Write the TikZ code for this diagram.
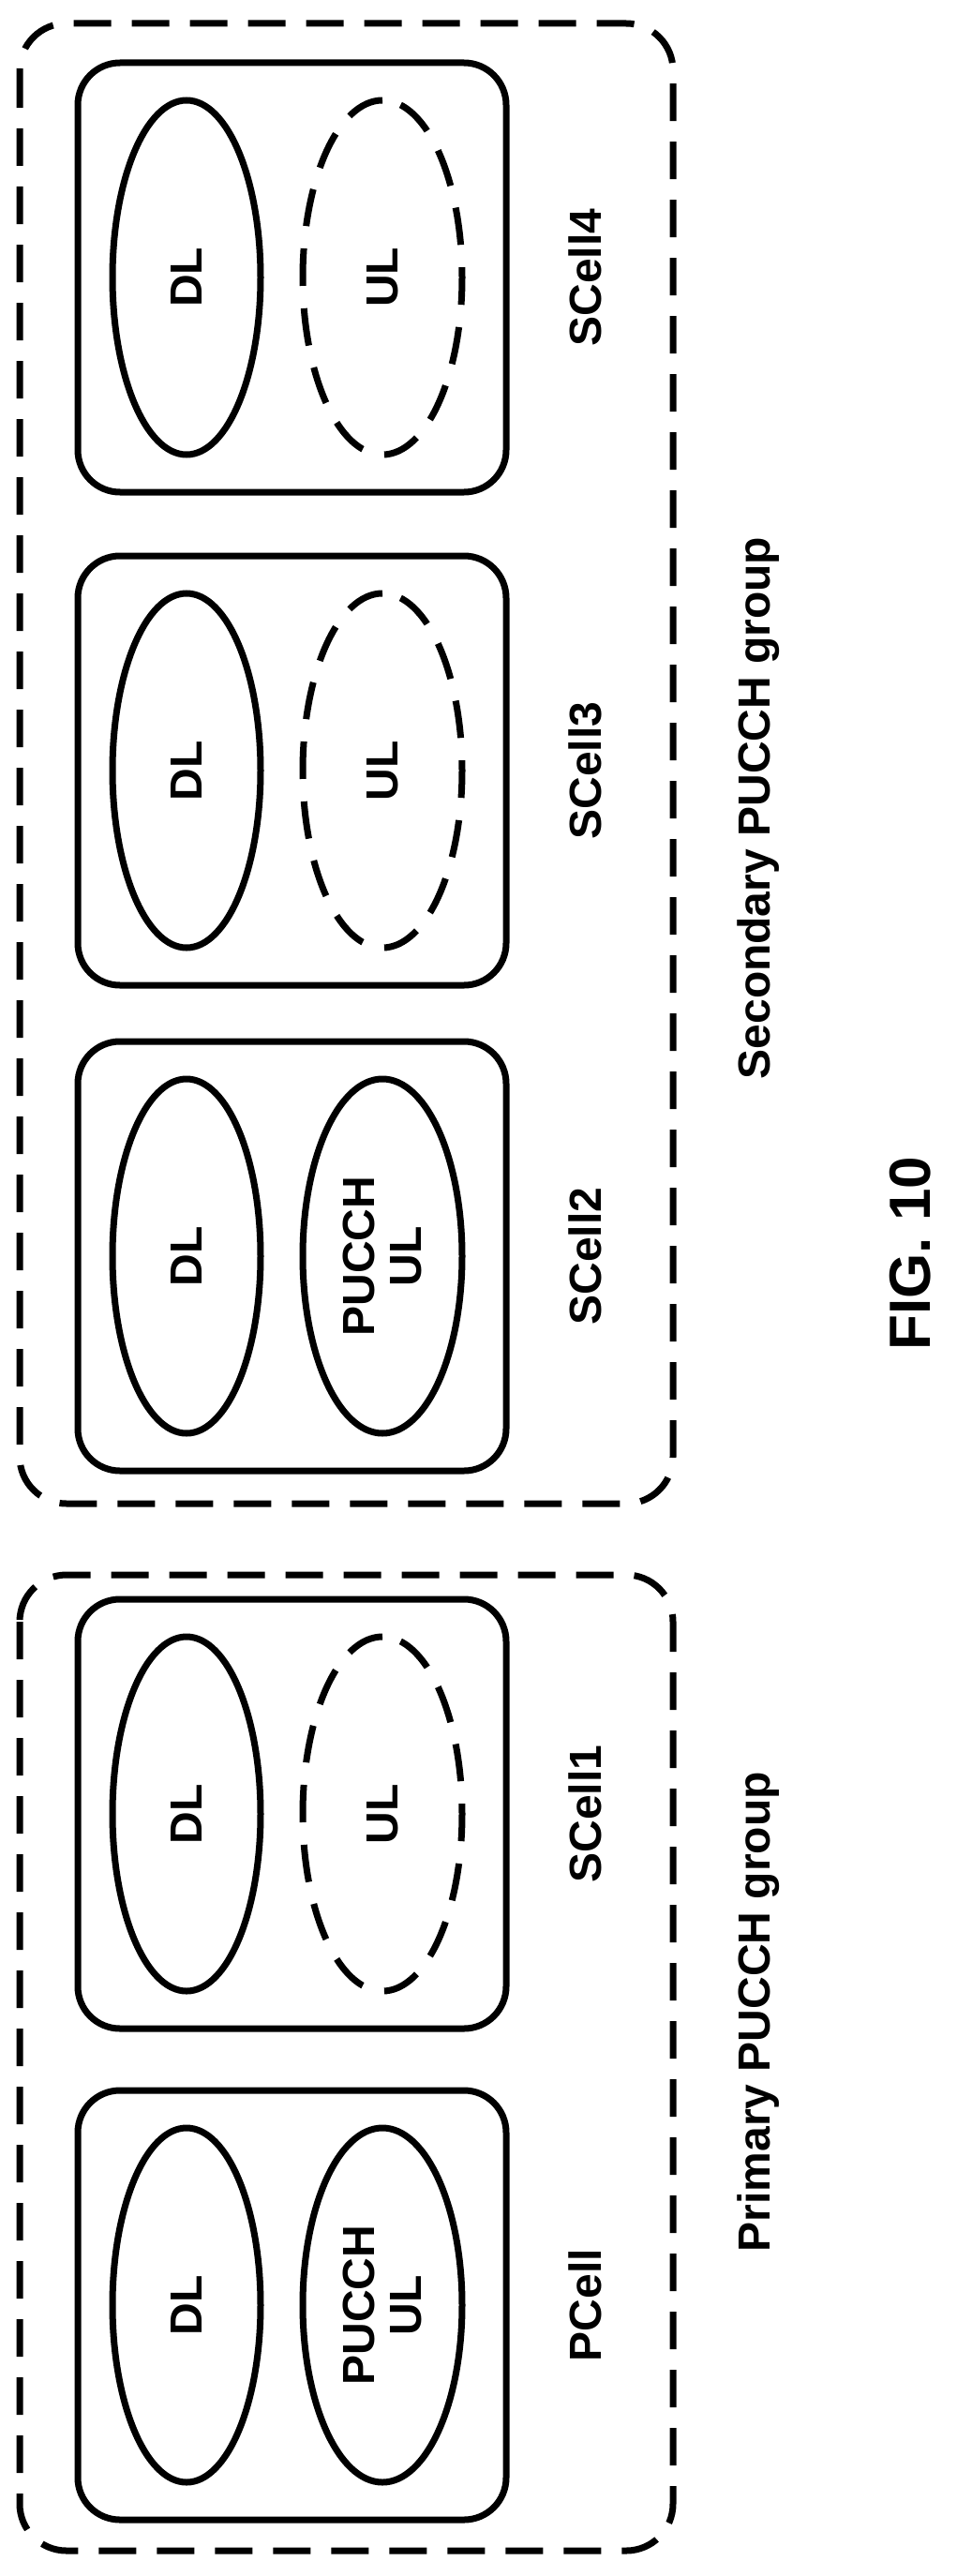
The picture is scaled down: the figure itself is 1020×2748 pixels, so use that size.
\documentclass[tikz,border=0pt]{standalone}
\usepackage{fontspec}
\setmainfont{Liberation Sans}
\usetikzlibrary{shapes.geometric}
\begin{document}
\begin{tikzpicture}[x=1pt,y=-1pt,
  grp/.style={draw,line width=7pt,dash pattern=on 40pt off 22pt,rounded corners=50pt},
  cellbox/.style={draw,line width=7pt,rounded corners=45pt},
  ell/.style={draw,line width=7pt,ellipse,minimum width=378pt,minimum height=158pt,inner sep=0pt,align=center,font=\fontsize{48}{50}\selectfont\bfseries},
  dell/.style={ell,dash pattern=on 40pt off 24pt},
  lab/.style={font=\fontsize{48}{50}\selectfont\bfseries,rotate=90}]
\useasboundingbox (0,0) rectangle (1020,2748);
\draw[grp] (21,25) rectangle (718,1604);
\draw[grp] (21,1680) rectangle (718,2721);
\foreach \n/\yc/\ul/\name in {c4/296/0/SCell4, c3/822/0/SCell3, c2/1340/1/SCell2, c1/1935/0/SCell1, p/2459/1/PCell}{
  \draw[cellbox] (83,\yc-229) rectangle (540,\yc+229);
  \node[ell,rotate=90] (\n dl) at (199,\yc) {DL};
  \ifnum\ul=1
    \node[ell,minimum height=170pt,rotate=90] (\n ul) at (408,\yc) {PUCCH\\UL};
  \else
    \node[dell,minimum height=170pt,rotate=90] (\n ul) at (408,\yc) {UL};
  \fi
  \node[lab] (\n lab) at (624,\yc) {\name};
}
\node[lab] (seclab) at (809,862) {Secondary PUCCH group};
\node[lab] (prilab) at (809,2146) {Primary PUCCH group};
\node[font=\fontsize{62}{64}\selectfont\bfseries,rotate=90] (fig) at (971,1337) {FIG. 10};
\end{tikzpicture}
\end{document}
